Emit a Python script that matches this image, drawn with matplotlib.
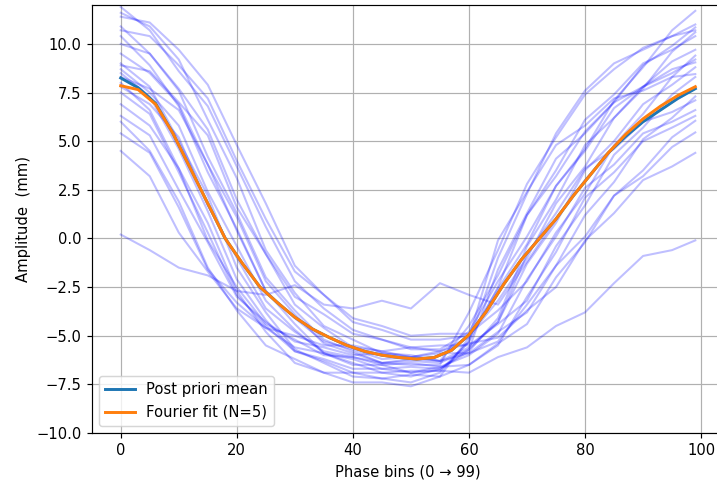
import matplotlib
matplotlib.use("Agg")
import matplotlib.pyplot as plt
import numpy as np

# phase grid used for the individual traces (bins)
phase_coarse = [0, 5, 10, 15, 20, 25, 30, 35, 40, 45, 50, 55, 60, 65, 70, 75, 80, 85, 90, 95, 99]
# phase grid used for the mean and the Fourier fit
phase_fine = [0, 3, 6, 9, 12, 15, 18, 21, 24, 27, 30, 33, 36, 39, 42, 45, 48, 51, 54, 57,
              60, 63, 66, 69, 72, 75, 78, 81, 84, 87, 90, 93, 96, 99]

trace_01 = [11.9, 10.7, 8.6, 6.8, 3.7, 0.6, -2.2, -3.6, -4.7, -5.2, -5.7, -5.7, -4.8, -2.2, 0.1, 2.7, 4.6, 7.1, 8.8, 10.7, 11.7]
trace_02 = [11.6, 10.9, 9.2, 6.1, 3.1, -0.6, -2.8, -4.5, -5.2, -5.9, -6.0, -6.3, -4.5, -1.9, 1.2, 3.2, 5.5, 7.0, 8.9, 9.9, 10.85]
trace_03 = [11.4, 11.1, 9.7, 7.9, 4.8, 1.8, -1.4, -2.9, -4.3, -4.7, -5.2, -5.2, -5.0, -3.2, -1.0, 1.8, 3.7, 6.2, 7.7, 9.6, 10.6]
trace_04 = [10.9, 9.5, 7.6, 4.2, 1.3, -2.0, -3.7, -5.2, -5.8, -6.4, -6.5, -6.5, -3.8, -0.6, 2.8, 5.2, 7.4, 8.7, 9.8, 10.4, 11.0]
trace_05 = [10.7, 10.4, 8.9, 7.2, 4.0, 1.0, -1.7, -2.9, -4.1, -4.5, -5.0, -4.9, -4.9, -3.7, -2.2, 0.3, 2.3, 4.8, 6.4, 8.3, 9.4]
trace_06 = [10.4, 8.9, 6.8, 3.4, 0.5, -2.7, -4.4, -5.9, -6.4, -6.9, -6.8, -6.8, -5.3, -2.5, 1.2, 3.5, 6.1, 7.4, 9.0, 9.7, 10.4]
trace_07 = [10.0, 9.5, 7.7, 5.6, 2.0, -0.8, -3.4, -4.6, -5.6, -5.8, -6.1, -5.8, -5.1, -2.6, -0.3, 2.7, 4.5, 6.7, 7.8, 9.1, 9.7]
trace_08 = [9.5, 8.5, 6.9, 3.8, 1.1, -2.2, -3.9, -5.4, -5.9, -6.4, -6.3, -6.4, -5.7, -4.3, -1.3, 0.8, 3.5, 5.0, 6.9, 7.9, 8.8]
trace_09 = [9.0, 7.8, 5.0, 2.2, -1.5, -3.8, -5.7, -6.4, -7.1, -7.2, -7.4, -6.9, -5.3, -1.0, 2.3, 5.4, 7.6, 9.0, 9.7, 10.4, 10.7]
trace_10 = [8.9, 8.6, 7.0, 5.3, 1.6, -0.8, -3.0, -3.9, -4.9, -5.2, -5.6, -5.5, -5.5, -4.4, -3.2, -0.4, 1.7, 4.3, 5.7, 7.4, 8.3]
trace_11 = [8.7, 7.5, 5.8, 2.4, -0.4, -3.2, -4.7, -5.9, -6.2, -6.7, -6.6, -6.7, -5.8, -4.1, -0.4, 2.0, 4.8, 6.2, 7.8, 8.5, 9.2]
trace_12 = [8.5, 7.3, 4.6, 1.4, -2.1, -4.2, -5.8, -6.3, -6.9, -6.9, -7.1, -6.7, -5.7, -1.6, 1.3, 4.1, 5.4, 7.0, 7.8, 8.7, 9.05]
trace_13 = [8.3, 7.7, 6.6, 3.8, 0.4, -2.7, -4.1, -5.3, -5.7, -6.2, -6.1, -6.3, -5.9, -5.3, -3.4, -1.4, 1.2, 2.9, 5.1, 6.2, 7.3]
trace_14 = [8.0, 6.6, 3.6, 0.8, -2.7, -4.8, -6.4, -6.9, -7.4, -7.4, -7.6, -7.1, -5.1, -0.1, 2.4, 4.8, 5.8, 7.2, 7.6, 8.3, 8.45]
trace_15 = [7.8, 6.9, 5.2, 1.7, -1.0, -3.6, -4.8, -5.8, -6.1, -6.5, -6.4, -6.6, -6.0, -4.9, -2.1, 0.1, 2.6, 3.8, 5.4, 6.0, 6.6]
trace_16 = [7.5, 6.4, 3.4, 0.3, -2.9, -4.5, -5.8, -6.2, -6.7, -6.7, -6.9, -6.6, -6.5, -5.4, -4.4, -2.0, -0.2, 2.2, 3.5, 5.2, 6.05]
trace_17 = [6.9, 5.8, 3.6, -0.1, -2.5, -4.4, -5.2, -6.0, -6.1, -6.4, -6.2, -6.3, -5.6, -4.3, -0.8, 1.3, 3.6, 4.6, 6.0, 6.5, 7.1]
trace_18 = [6.3, 5.3, 2.5, -0.2, -3.0, -4.3, -5.3, -5.6, -6.0, -5.9, -6.1, -5.9, -5.9, -4.8, -3.8, -1.4, 0.1, 2.2, 3.2, 4.7, 5.45]
trace_19 = [6.0, 4.5, 1.9, -1.5, -3.7, -5.5, -6.2, -6.9, -6.9, -7.2, -7.0, -7.1, -6.5, -5.5, -3.0, -0.7, 2.1, 3.4, 5.0, 5.7, 6.3]
trace_20 = [5.4, 4.4, 1.6, -1.6, -3.3, -4.6, -5.0, -5.5, -5.5, -5.8, -5.6, -5.8, -5.4, -5.1, -3.7, -2.5, -0.1, 1.3, 3.0, 3.7, 4.4]
trace_21 = [4.5, 3.2, 0.3, -1.7, -3.6, -4.6, -5.6, -5.9, -6.5, -6.5, -6.9, -6.8, -6.9, -6.1, -5.6, -4.5, -3.8, -2.3, -0.9, -0.6, -0.1]
trace_22 = [0.2, -0.6, -1.5, -1.9, -2.7, -2.9, -2.4, -3.4, -3.6, -3.2, -3.6, -2.3, -2.9, -3.4, -1.2, 1.0, 3.0, 4.7, 6.0, 7.0, 7.7]

mean_values = [8.25, 7.75, 6.95, 5.4, 3.6, 1.8, 0.0, -1.3, -2.5, -3.3, -4.05, -4.65, -5.1, -5.5, -5.8, -6.0, -6.12,
               -6.2, -6.12, -5.75, -4.95, -3.75, -2.35, -1.1, -0.05, 1.0, 2.2, 3.3, 4.4, 5.25, 6.0, 6.6, 7.2, 7.7]
fit_values = [7.85, 7.65, 6.9, 5.4, 3.6, 1.8, 0.0, -1.3, -2.5, -3.3, -4.05, -4.65, -5.1, -5.5, -5.8, -6.0, -6.12,
              -6.2, -6.12, -5.75, -4.95, -3.75, -2.35, -1.1, -0.05, 1.0, 2.2, 3.3, 4.4, 5.35, 6.15, 6.8, 7.35, 7.8]

traces = [trace_01, trace_02, trace_03, trace_04, trace_05, trace_06, trace_07, trace_08, trace_09, trace_10, trace_11,
          trace_12, trace_13, trace_14, trace_15, trace_16, trace_17, trace_18, trace_19, trace_20, trace_21, trace_22]

DPI = 106
fig = plt.figure(figsize=(717 / DPI, 482 / DPI), dpi=DPI)
ax = fig.add_axes([0.1283, 0.1017, 0.8815, 0.8879])

for tr in traces:
    ax.plot(phase_coarse, tr, color="blue", alpha=0.25, lw=1.4)

ax.plot(phase_fine, mean_values, color="tab:blue", lw=2, label="Post priori mean")
ax.plot(phase_fine, fit_values, color="tab:orange", lw=2, label="Fourier fit (N=5)")

ax.set_ylim(-10, 12)
ax.set_xlim(-4.95, 103.95)
ax.grid(True)
ax.set_xlabel("Phase bins (0 → 99)")
ax.set_ylabel("Amplitude  (mm)")
ax.legend(loc="lower left")

fig.savefig("out.png", dpi=DPI)
